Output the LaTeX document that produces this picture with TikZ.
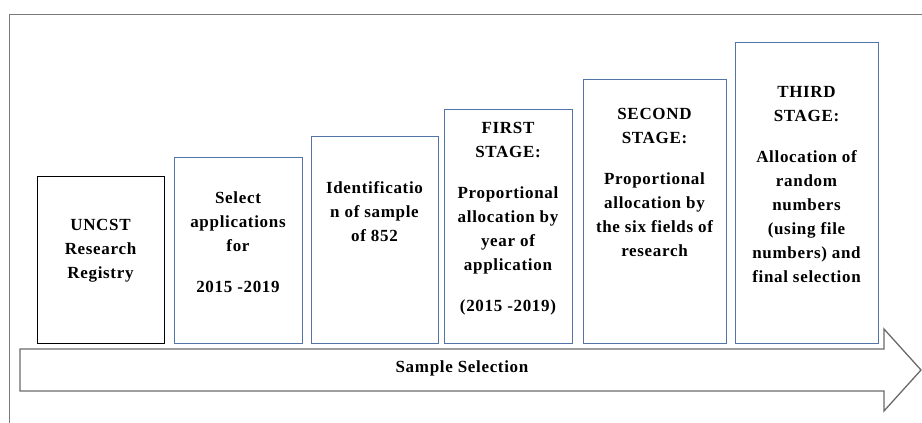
\documentclass[tikz,border=0pt]{standalone}
\usepackage{fontspec}
\setmainfont{Liberation Serif}[LetterSpace=4.0]
\definecolor{boxblue}{HTML}{5274A8}
\definecolor{framegray}{HTML}{7A7A7A}
\definecolor{arrowgray}{HTML}{6A6A6A}
\begin{document}
\begin{tikzpicture}[x=1pt,y=-1pt,
  box/.style={draw=boxblue, line width=1pt, rectangle, anchor=north west, inner sep=0pt},
  txt/.style={align=center, font=\fontsize{17}{24}\selectfont\bfseries, inner sep=0pt, text=black},
  ]
\useasboundingbox (0,0) rectangle (922,423);
% outer frame
\draw[framegray, line width=1pt] (9,423) -- (9,14) -- (922,14);
% boxes
\node[box, draw=black, minimum width=127, minimum height=167] (b1) at (37,176) {};
\node[box, minimum width=128, minimum height=186] (b2) at (174,157) {};
\node[box, minimum width=127, minimum height=207] (b3) at (311,136) {};
\node[box, minimum width=128, minimum height=234] (b4) at (444,109) {};
\node[box, minimum width=143, minimum height=264] (b5) at (583,79) {};
\node[box, minimum width=143, minimum height=301] (b6) at (735,42) {};
% texts
\node[txt] (t1) at (100.5,250.5) {UNCST\\Research\\Registry};
\node[txt] (t2) at (238,242) {Select\\applications\\for\\[17pt]2015 -2019};
\node[txt] (t3) at (374.5,211.5) {Identificatio\\n of sample\\of 852};
\node[txt] (t4) at (508,219) {FIRST\\STAGE:\\[17pt]Proportional\\allocation by\\year of\\application\\[17pt](2015 -2019)};
\node[txt] (t5) at (654.5,182) {SECOND\\STAGE:\\[17pt]Proportional\\allocation by\\the six fields of\\research};
\node[txt] (t6) at (806.5,184.5) {THIRD\\STAGE:\\[17pt]Allocation of\\random\\numbers\\(using file\\numbers) and\\final selection};
% arrow
\draw[arrowgray, line width=1.3pt, line join=miter, fill=white]
  (20,349) -- (884,349) -- (884,329) -- (921,370) -- (884,411) -- (884,391) -- (20,391) -- cycle;
\node[txt] (lbl) at (462,368) {Sample Selection};
\end{tikzpicture}
\end{document}
